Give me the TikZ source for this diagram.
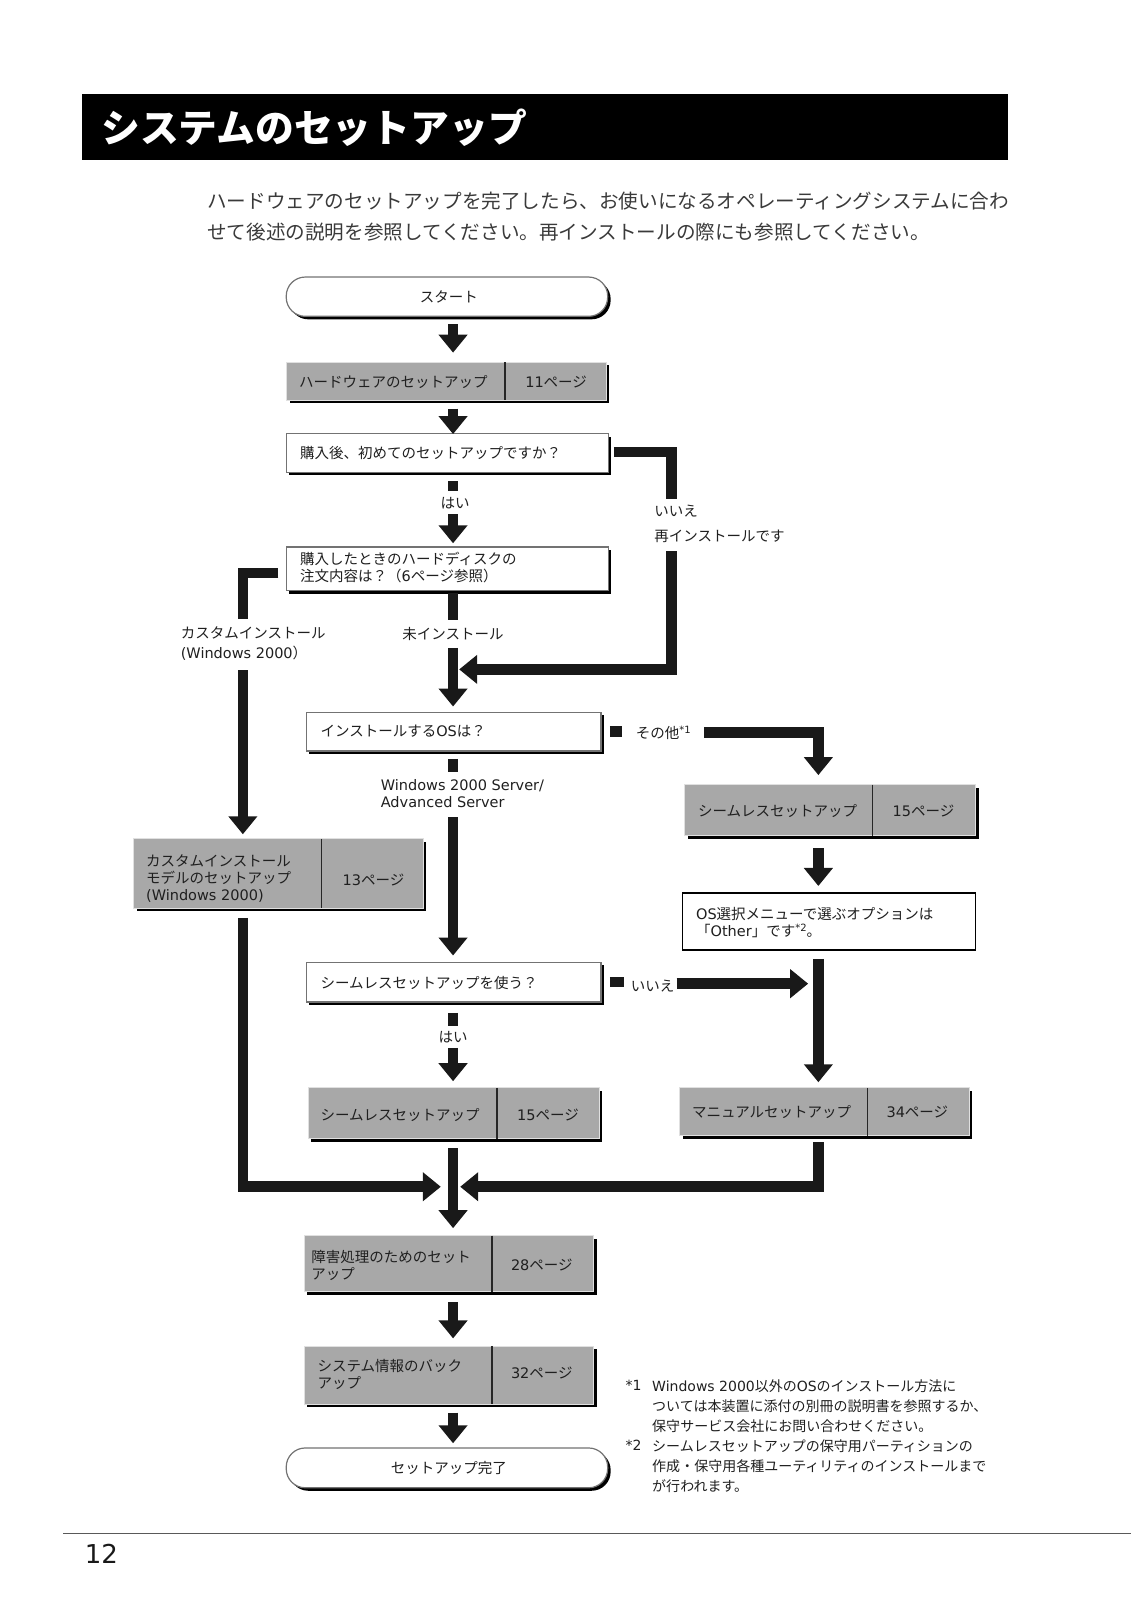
\documentclass[tikz,border=0pt]{standalone}
\usepackage{fontspec}
\setmainfont{Noto Sans CJK JP}
\newfontfamily\latfont{DejaVu Sans}
\usetikzlibrary{arrows.meta,shadows,fit,calc}
\definecolor{boxgray}{RGB}{168,168,168}
\definecolor{txtgray}{RGB}{58,58,58}
\newcommand\la[1]{{\latfont #1}}
\newcommand\fsbox{\fontsize{14.5pt}{17pt}\selectfont}
\newcommand\fsnote{\fontsize{14pt}{19.8pt}\selectfont}
\newcommand\fsintro{\fontsize{19.6pt}{30pt}\selectfont}
\newcommand\fstitle{\fontsize{38.8pt}{40pt}\selectfont}
\newcommand\fspage{\fontsize{26pt}{28pt}\selectfont}
\newcommand\supmark[1]{\raisebox{5pt}{\fontsize{10pt}{10pt}\selectfont\latfont #1}}
\begin{document}
\begin{tikzpicture}[x=1.0204pt,y=-1.0204pt,
  conn/.style={line width=10.5pt, draw=black!90},
  bigarrow/.style={conn, -{Triangle[width=28pt,length=18pt]}},
  shad/.style={drop shadow={shadow xshift=3pt,shadow yshift=-3pt,fill=black,opacity=1}},
  wbox/.style={shad, draw=black!55, line width=1.2pt, fill=white, inner sep=0pt},
  gbox/.style={shad, draw=black!12, line width=0.8pt, fill=boxgray, inner sep=0pt},
  stadium/.style={wbox, rounded corners=19pt},
  obox/.style={draw=black, line width=1.5pt, fill=white, inner sep=0pt},
  divider/.style={draw=black!85, line width=1.5pt},
  txt/.style={font=\fsbox, text=black!88, inner sep=0pt, align=left},
  ctxt/.style={font=\fsbox, text=black!88, inner sep=0pt, align=center},
  note/.style={font=\fsnote, text=black!88, inner sep=0pt, align=left},
  intro/.style={font=\fsintro, text=txtgray, inner sep=0pt}
]
\useasboundingbox (0,0) rectangle (1110.35,1568.0);

% ---------- title and intro ----------
\node[fill=black, inner sep=0pt, fit={(80,92) (988,157)}] (bar) {};
\node[anchor=west, text=white, font=\fstitle\bfseries, inner sep=0pt] (title) at (99,125) {システムのセットアップ};
\node[intro, anchor=west] (intro1) at (203,197) {ハードウェアのセットアップを完了したら、お使いになるオペレーティングシステムに合わ};
\node[intro, anchor=west] (intro2) at (203,227) {せて後述の説明を参照してください。再インストールの際にも参照してください。};

% ---------- column coordinates ----------
\coordinate (cm) at (444,0);
\coordinate (cl) at (238,0);
\coordinate (cr) at (802,0);

% ---------- boxes ----------
\node[stadium, fit={(280.5,271.5) (595.5,310)}] (start) {};
\node[ctxt] (starttxt) at (440,291) {スタート};

\node[gbox, fit={(281,355) (594,392)}] (hw) {};
\draw[divider] (495,355) -- (495,392);
\node[txt, anchor=west] (hwtxt) at (293,374) {ハードウェアのセットアップ};
\node[ctxt] (hwpg) at (545,374) {\la{11}ページ};

\node[wbox, fit={(280.5,425) (596,463)}] (q1) {};
\node[txt, anchor=west] (q1txt) at (294,444) {購入後、初めてのセットアップですか？};

\node[wbox, fit={(280.5,536) (596,579)}] (q2) {};
\node[txt, anchor=west] (q2txt) at (294,556.5) {購入したときのハードディスクの\\注文内容は？（\la{6}ページ参照）};

\node[wbox, fit={(300,698) (589,736)}] (q3) {};
\node[txt, anchor=west] (q3txt) at (314,717) {インストールする\la{OS}は？};

\node[gbox, fit={(671,769) (956,819)}] (seam1) {};
\draw[divider] (855,769) -- (855,819);
\node[txt, anchor=west] (seam1txt) at (684,795) {シームレスセットアップ};
\node[ctxt] (seam1pg) at (905,795) {\la{15}ページ};

\node[obox, fit={(669,875) (956,931)}] (os) {};
\node[txt, anchor=west] (ostxt) at (682,904) {\la{OS}選択メニューで選ぶオプションは\\「\la{Other}」です\supmark{*2}。};

\node[gbox, fit={(131,822) (415,890)}] (cust) {};
\draw[divider] (315,822) -- (315,890);
\node[txt, anchor=west] (custtxt) at (143,861) {カスタムインストール\\モデルのセットアップ\\\la{(Windows 2000)}};
\node[ctxt] (custpg) at (366,862) {\la{13}ページ};

\node[wbox, fit={(300,943) (589,982)}] (q4) {};
\node[txt, anchor=west] (q4txt) at (314,963) {シームレスセットアップを使う？};

\node[gbox, fit={(302,1066) (587,1116)}] (seam2) {};
\draw[divider] (487,1066) -- (487,1116);
\node[txt, anchor=west] (seam2txt) at (314,1093) {シームレスセットアップ};
\node[ctxt] (seam2pg) at (537,1093) {\la{15}ページ};

\node[gbox, fit={(666,1066) (950,1113)}] (man) {};
\draw[divider] (850,1066) -- (850,1113);
\node[txt, anchor=west] (mantxt) at (678,1090) {マニュアルセットアップ};
\node[ctxt] (manpg) at (899,1090) {\la{34}ページ};

\node[gbox, fit={(298,1211) (582,1266)}] (fault) {};
\draw[divider] (482,1211) -- (482,1266);
\node[txt, anchor=west] (faulttxt) at (305,1240) {障害処理のためのセット\\アップ};
\node[ctxt] (faultpg) at (531,1240) {\la{28}ページ};

\node[gbox, fit={(298,1319) (582,1376)}] (backup) {};
\draw[divider] (482,1319) -- (482,1376);
\node[txt, anchor=west] (backuptxt) at (311,1347) {システム情報のバック\\アップ};
\node[ctxt] (backuppg) at (531,1346) {\la{32}ページ};

\node[stadium, fit={(280.5,1419) (595.5,1458)}] (end) {};
\node[ctxt] (endtxt) at (440,1439) {セットアップ完了};

% ---------- labels ----------
\node[ctxt] (hai1) at (446,493) {はい};
\node[txt, anchor=west] (iie1) at (641,501) {いいえ};
\node[txt, anchor=west] (reinst) at (641,526) {再インストールです};
\node[txt, anchor=west] (custlab) at (177,631) {カスタムインストール\\[3pt]\la{(Windows 2000}）};
\node[ctxt] (mi) at (444,621) {未インストール};
\node[txt, anchor=west] (sonota) at (623,718) {その他\supmark{*1}};
\node[txt, anchor=west] (winlab) at (373,778) {\la{Windows 2000 Server/}\\\la{Advanced Server}};
\node[txt, anchor=west] (iie2) at (618,966) {いいえ};
\node[ctxt] (hai2) at (444,1016) {はい};

% ---------- break points ----------
\coordinate (qa) at (658,489);
\coordinate (qb) at (658,540);
\coordinate (tipA) at (450,656);
\coordinate (la) at (238,607);
\coordinate (lb) at (238,657);
\coordinate (ma) at (444,608);
\coordinate (mb) at (444,635);
\coordinate (oa) at (690,718);
\coordinate (wa) at (444,801);
\coordinate (na) at (663,964);
\coordinate (tipN) at (792,964);
\coordinate (tipL) at (432,1163);
\coordinate (tipR) at (451,1163);

% ---------- connectors ----------
\draw[bigarrow] ($(start.south -| cm)+(0,7)$) -- ($(hw.north -| cm)+(0,-9)$);
\draw[bigarrow] ($(hw.south -| cm)+(0,8)$) -- ($(q1.north -| cm)+(0,1)$);
\draw[conn] ($(q1.south -| cm)+(0,8)$) -- ($(q1.south -| cm)+(0,18)$);
\draw[bigarrow] ($(hai1.south -| cm)+(0,5)$) -- ($(q2.north -| cm)+(0,-3)$);
\draw[conn] ($(q1.east)+(5,-1)$) -| (qa);
\draw[bigarrow] (qb) |- (tipA);
\draw[conn] ($(q2.west)+(-7,4)$) -| (la);
\draw[bigarrow] (lb) -- ($(cust.north -| cl)+(0,-4)$);
\draw[conn] ($(q2.south -| cm)+(0,2)$) -- (ma);
\draw[bigarrow] (mb) -- ($(q3.north -| cm)+(0,-5)$);
\draw[conn] ($(q3.east)+(8,0)$) -- ($(q3.east)+(20,0)$);
\draw[bigarrow] (oa) -| ($(seam1.north -| cr)+(0,-9)$);
\draw[conn] ($(q3.south -| cm)+(0,7)$) -- ($(q3.south -| cm)+(0,20)$);
\draw[bigarrow] (wa) -- ($(q4.north -| cm)+(0,-6)$);
\draw[bigarrow] ($(seam1.south -| cr)+(0,12)$) -- ($(os.north -| cr)+(0,-6)$);
\draw[bigarrow] ($(os.south -| cr)+(0,8)$) -- ($(man.north -| cr)+(0,-5)$);
\draw[conn] ($(q4.east)+(8,0)$) -- ($(q4.east)+(22,0)$);
\draw[bigarrow] (na) -- (tipN);
\draw[conn] ($(q4.south -| cm)+(0,10)$) -- ($(q4.south -| cm)+(0,23)$);
\draw[bigarrow] ($(hai2.south -| cm)+(0,5)$) -- ($(seam2.north -| cm)+(0,-6)$);
\draw[bigarrow] ($(cust.south -| cl)+(0,9)$) |- (tipL);
\draw[bigarrow] ($(man.south -| cr)+(0,6)$) |- (tipR);
\draw[bigarrow] ($(seam2.south -| cm)+(0,9)$) -- ($(fault.north -| cm)+(0,-7)$);
\draw[bigarrow] ($(fault.south -| cm)+(0,10)$) -- ($(backup.north -| cm)+(0,-7)$);
\draw[bigarrow] ($(backup.south -| cm)+(0,8)$) -- ($(end.north -| cm)+(0,-4)$);

% ---------- footnotes ----------
\node[note, anchor=north west] (fm1) at (613,1352) {\la{*1}};
\node[note, anchor=north west] (fn1) at (639,1352) {\la{Windows 2000}以外の\la{OS}のインストール方法に\\ついては本装置に添付の別冊の説明書を参照するか、\\保守サービス会社にお問い合わせください。};
\node[note, anchor=north west] (fm2) at (613,1411) {\la{*2}};
\node[note, anchor=north west] (fn2) at (639,1411) {シームレスセットアップの保守用パーティションの\\作成・保守用各種ユーティリティのインストールまで\\が行われます。};

% ---------- footer ----------
\coordinate (rl) at (62,1503);
\coordinate (rr) at (1108,1503);
\draw[black!65, line width=1.3pt] (rl) -- (rr);
\node[anchor=west, font=\fspage\latfont, text=black!90, inner sep=0pt] (pnum) at (83,1523) {12};
\end{tikzpicture}
\end{document}
